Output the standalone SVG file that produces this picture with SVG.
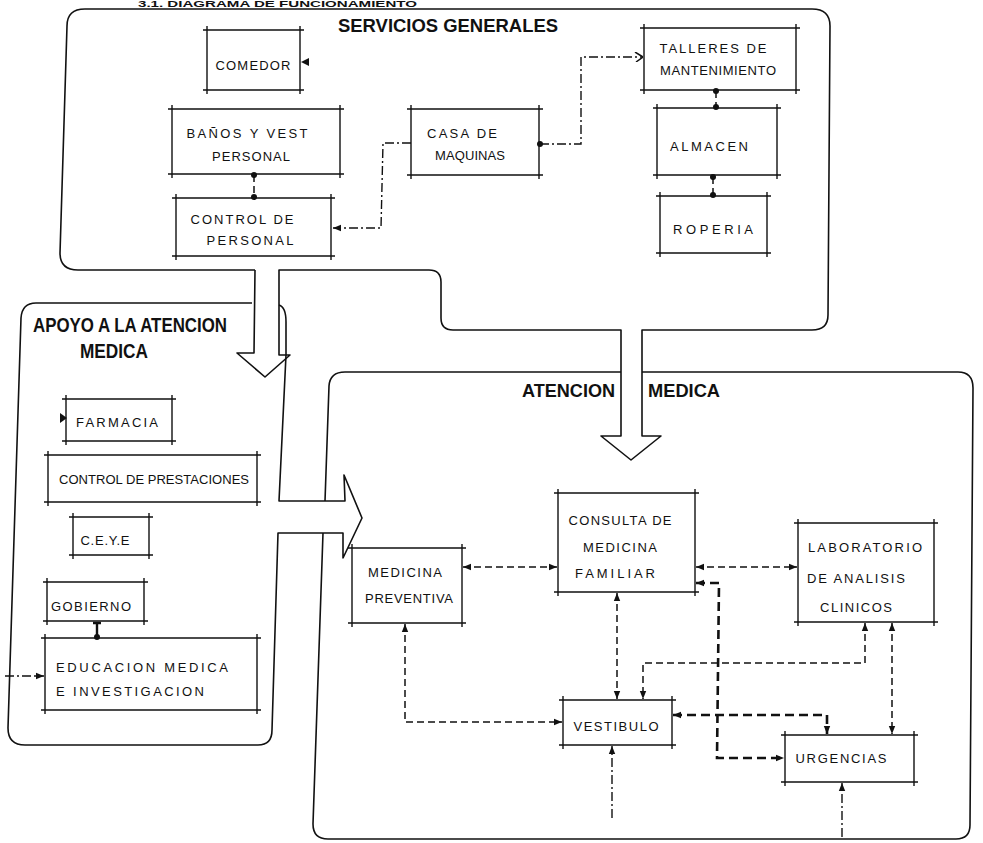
<svg xmlns="http://www.w3.org/2000/svg" width="983" height="843" viewBox="0 0 983 843">
<style>
  .bg{fill:#ffffff}
  .zone{fill:none;stroke:#111;stroke-width:1.6;stroke-linejoin:round}
  .box{fill:none;stroke:#111;stroke-width:1.4}
  .t{font-family:"Liberation Sans",Arial,sans-serif;font-size:13px;fill:#111;text-anchor:middle}
  .ts{font-family:"Liberation Sans",Arial,sans-serif;font-size:13px;fill:#111}
  .title{font-family:"Liberation Sans",Arial,sans-serif;font-weight:bold;fill:#111}
  .dash{fill:none;stroke:#111;stroke-width:1.5;stroke-dasharray:7 4}
  .thick{fill:none;stroke:#111;stroke-width:2.6;stroke-dasharray:9 5}
  .dd{fill:none;stroke:#111;stroke-width:1.4;stroke-dasharray:9 3 2 3}
  .solid{fill:none;stroke:#111;stroke-width:2.4}
</style>
<defs>
  <marker id="arr" viewBox="0 0 10 10" refX="10" refY="5" markerWidth="8" markerHeight="8" markerUnits="userSpaceOnUse" orient="auto-start-reverse">
    <path d="M0,1 L10,5 L0,9 z" fill="#111"/>
  </marker>
  <marker id="open" viewBox="0 0 10 10" refX="10" refY="5" markerWidth="10" markerHeight="10" markerUnits="userSpaceOnUse" orient="auto">
    <path d="M2,0 L10,5 L3,10" fill="none" stroke="#111" stroke-width="1.5"/>
  </marker>
  <marker id="dot" viewBox="0 0 10 10" refX="5" refY="5" markerWidth="6" markerHeight="6" markerUnits="userSpaceOnUse">
    <circle cx="5" cy="5" r="5" fill="#111"/>
  </marker>
</defs>
<rect class="bg" x="0" y="0" width="983" height="843"/>

<text class="title" x="138" y="7" font-size="8.5" textLength="279" lengthAdjust="spacingAndGlyphs">3.1. DIAGRAMA DE FUNCIONAMIENTO</text>

<g id="zone-servicios-generales">
  <path class="zone" d="M255,270 L78,270 Q60,270 60,253 L67,26 Q67,9 85,9 L812,9 Q830,9 830,26 L828,315 Q828,330 812,330 L642,330 L642,436 L661,436 L631,460 L601,436 L621,436 L621,330 L453,330 Q441,330 441,318 L441,282 Q441,270 429,270 L279,270 L279,355 L290,355 L265,377 L237,353 L254,353 L255,270"/>
  <text class="title" x="338" y="32" font-size="18" textLength="220" lengthAdjust="spacingAndGlyphs">SERVICIOS GENERALES</text>
</g>

<g id="zone-apoyo">
  <path class="zone" d="M252,303 L36,303 Q22,303 21,318 L8,728 Q8,745 25,745 L258,745 Q272,745 272,730 L278,533 L343,533 L343,558 L362,518 L344,475 L345,501 L279,501 L286,355 L286,322 Q286,307 279,305"/>
  <text class="title" x="33" y="332" font-size="21" textLength="194" lengthAdjust="spacingAndGlyphs">APOYO A LA ATENCION</text>
  <text class="title" x="80" y="358" font-size="21" textLength="68" lengthAdjust="spacingAndGlyphs">MEDICA</text>
</g>

<g id="zone-atencion">
  <path class="zone" d="M621,372 L345,372 Q330,372 329,386 L325,501 M323,533 L313,824 Q313,839 328,839 L956,839 Q970,839 970,825 L973,388 Q973,372 958,372 L642,372"/>
  <text class="title" x="522" y="397" font-size="18" textLength="93" lengthAdjust="spacingAndGlyphs">ATENCION</text>
  <text class="title" x="648" y="397" font-size="18" textLength="72" lengthAdjust="spacingAndGlyphs">MEDICA</text>
</g>

<!-- SERVICIOS GENERALES nodes -->
<g id="comedor">
  <path class="box" d="M203,30 H304 M300,26 V94 M304,90 H203 M207,94 V26"/>
  <text class="t" x="253" y="70" textLength="75" lengthAdjust="spacing">COMEDOR</text>
</g>
<g id="banos">
  <path class="box" d="M168,109 H344 M340,105 V178 M344,174 H168 M172,178 V105"/>
  <text class="t" x="247" y="138" textLength="121" lengthAdjust="spacing">BAÑOS Y VEST</text>
  <text class="t" x="251" y="161" textLength="78" lengthAdjust="spacing">PERSONAL</text>
</g>
<g id="control-personal">
  <path class="box" d="M172,198 H335 M331,194 V260 M335,256 H172 M176,260 V194"/>
  <text class="t" x="242" y="224" textLength="103" lengthAdjust="spacing">CONTROL DE</text>
  <text class="t" x="250" y="245" textLength="87" lengthAdjust="spacing">PERSONAL</text>
</g>
<g id="casa-maquinas">
  <path class="box" d="M407,109 H543 M539,105 V179 M543,175 H407 M411,179 V105"/>
  <text class="t" x="462" y="138" textLength="70" lengthAdjust="spacing">CASA DE</text>
  <text class="t" x="470" y="160" textLength="70" lengthAdjust="spacing">MAQUINAS</text>
</g>
<g id="talleres">
  <path class="box" d="M640,28 H800 M796,24 V94 M800,90 H640 M644,94 V24"/>
  <text class="t" x="713" y="53" textLength="107" lengthAdjust="spacing">TALLERES DE</text>
  <text class="t" x="718" y="75" textLength="116" lengthAdjust="spacing">MANTENIMIENTO</text>
</g>
<g id="almacen">
  <path class="box" d="M653,108 H781 M777,104 V179 M781,175 H653 M657,179 V104"/>
  <text class="t" x="709" y="151" textLength="78" lengthAdjust="spacing">ALMACEN</text>
</g>
<g id="roperia">
  <path class="box" d="M656,196 H771 M767,192 V257 M771,253 H656 M660,257 V192"/>
  <text class="t" x="713" y="234" textLength="80" lengthAdjust="spacing">ROPERIA</text>
</g>

<!-- APOYO nodes -->
<g id="farmacia">
  <path class="box" d="M62,399 H176 M172,395 V445 M176,441 H62 M66,445 V395"/>
  <text class="t" x="117" y="427" textLength="82" lengthAdjust="spacing">FARMACIA</text>
</g>
<g id="control-prestaciones">
  <path class="box" d="M44,455 H261 M257,451 V506 M261,502 H44 M48,506 V451"/>
  <text class="t" x="154" y="484" textLength="190" lengthAdjust="spacing">CONTROL DE PRESTACIONES</text>
</g>
<g id="ceye">
  <path class="box" d="M69,517 H153 M149,513 V559 M153,555 H69 M73,559 V513"/>
  <text class="t" x="105" y="545" textLength="49" lengthAdjust="spacing">C.E.Y.E</text>
</g>
<g id="gobierno">
  <path class="box" d="M43,582 H148 M144,578 V625 M148,621 H43 M47,625 V578"/>
  <text class="t" x="91" y="611" textLength="80" lengthAdjust="spacing">GOBIERNO</text>
</g>
<g id="educacion">
  <path class="box" d="M41,638 H261 M257,634 V714 M261,710 H41 M45,714 V634"/>
  <text class="ts" x="56" y="672" textLength="172" lengthAdjust="spacing">EDUCACION  MEDICA</text>
  <text class="ts" x="56" y="696" textLength="148" lengthAdjust="spacing">E INVESTIGACION</text>
</g>

<!-- ATENCION MEDICA nodes -->
<g id="consulta">
  <path class="box" d="M554,493 H699 M695,489 V596 M699,592 H554 M558,596 V489"/>
  <text class="t" x="620" y="525" textLength="103" lengthAdjust="spacing">CONSULTA DE</text>
  <text class="t" x="620" y="552" textLength="74" lengthAdjust="spacing">MEDICINA</text>
  <text class="t" x="615" y="578" textLength="80" lengthAdjust="spacing">FAMILIAR</text>
</g>
<g id="laboratorio">
  <path class="box" d="M794,523 H938 M934,519 V626 M938,622 H794 M798,626 V519"/>
  <text class="t" x="865" y="552" textLength="114" lengthAdjust="spacing">LABORATORIO</text>
  <text class="t" x="856" y="583" textLength="98" lengthAdjust="spacing">DE ANALISIS</text>
  <text class="t" x="856" y="612" textLength="72" lengthAdjust="spacing">CLINICOS</text>
</g>
<g id="medicina-preventiva">
  <path class="box" d="M348,548 H466 M462,544 V627 M466,623 H348 M352,627 V544"/>
  <text class="t" x="405" y="577" textLength="74" lengthAdjust="spacing">MEDICINA</text>
  <text class="t" x="409" y="603" textLength="88" lengthAdjust="spacing">PREVENTIVA</text>
</g>
<g id="vestibulo">
  <path class="box" d="M559,700 H676 M672,696 V749 M676,745 H559 M563,749 V696"/>
  <text class="t" x="616" y="731" textLength="85" lengthAdjust="spacing">VESTIBULO</text>
</g>
<g id="urgencias">
  <path class="box" d="M781,735 H918 M914,731 V786 M918,782 H781 M785,786 V731"/>
  <text class="t" x="841" y="763" textLength="91" lengthAdjust="spacing">URGENCIAS</text>
</g>

<g id="connectors">
  <!-- Servicios generales -->
  <path class="dash" d="M254,175 V197" marker-start="url(#dot)" marker-end="url(#dot)"/>
  <path class="dd" d="M411,143 H383 L381,228 H333" marker-end="url(#arr)"/>
  <path class="dd" d="M540,144 H581 V57 H643" marker-start="url(#dot)" marker-end="url(#open)"/>
  <path class="dash" d="M716,91 V107" marker-start="url(#dot)" marker-end="url(#dot)"/>
  <path class="dash" d="M713,177 V195" marker-start="url(#dot)" marker-end="url(#dot)"/>
  <path d="M309,58 L301,62 L309,66 z" fill="#111"/>
  <!-- Apoyo -->
  <path d="M60,413 L67,418 L60,423 z" fill="#111"/>
  <path class="solid" d="M97,623 V636 M93,623 H101"/>
  <circle cx="97" cy="637" r="3" fill="#111"/>
  <path class="dd" d="M5,676 H44" marker-end="url(#arr)"/>
  <!-- Atencion medica -->
  <path class="dash" d="M463,567 H557" marker-start="url(#arr)" marker-end="url(#arr)"/>
  <path class="dash" d="M696,567 H797" marker-start="url(#arr)" marker-end="url(#arr)"/>
  <path class="thick" d="M696,583 H719 L717,758 H784" marker-start="url(#arr)" marker-end="url(#arr)"/>
  <path class="dash" d="M617,593 V699" marker-start="url(#arr)" marker-end="url(#arr)"/>
  <path class="dash" d="M865,623 V663 H643 V699" marker-start="url(#arr)" marker-end="url(#arr)"/>
  <path class="dash" d="M892,623 V734" marker-start="url(#arr)" marker-end="url(#arr)"/>
  <path class="thick" d="M673,715 H827 V734" marker-start="url(#arr)" marker-end="url(#arr)"/>
  <path class="dash" d="M405,624 V722 H562" marker-start="url(#arr)" marker-end="url(#arr)"/>
  <path class="dd" d="M612,818 V746" marker-end="url(#arr)"/>
  <path class="dd" d="M842,837 V783" marker-end="url(#arr)"/>
</g>
</svg>
